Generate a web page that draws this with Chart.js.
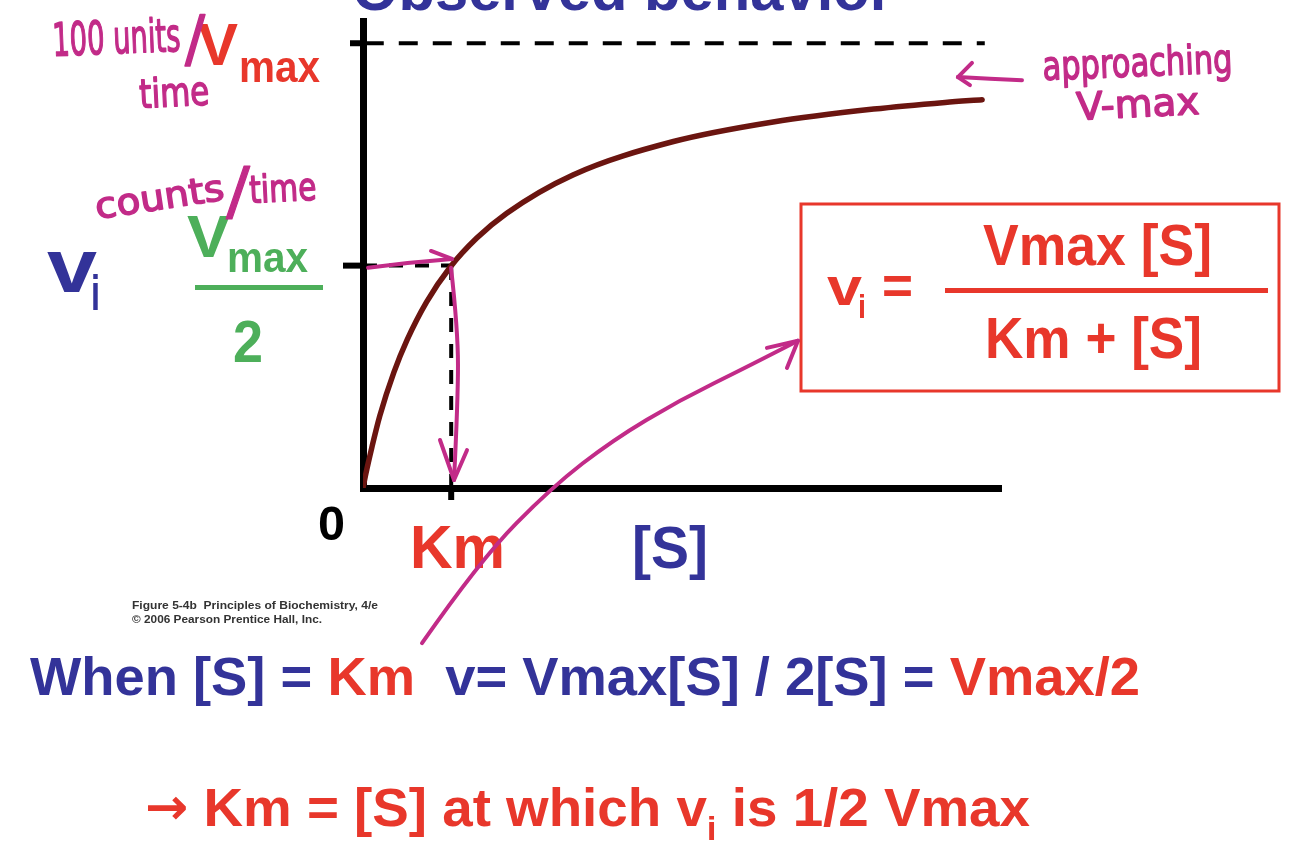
<!DOCTYPE html>
<html><head><meta charset="utf-8">
<script src="https://cdn.jsdelivr.net/npm/chart.js@4.4.1/dist/chart.umd.min.js"></script>
<style>html,body{margin:0;padding:0;background:#fff;overflow:hidden}canvas{display:block}</style>
</head><body>
<canvas id="c" width="1314" height="848"></canvas>
<script>
// ---- data ----
const substrate = [0, 0.03, 0.1, 0.19, 0.35, 0.5, 0.72, 0.99, 1.29, 1.63, 2.38, 3.52, 4.65, 5.79, 6.6, 7.02];
const velocity  = [0, 3.0, 9.1, 16.2, 26, 33.3, 41.8, 49.7, 56.2, 61.8, 70.4, 77.9, 82.3, 85.2, 86.7, 87.3];
const vmaxValue = 100;
const halfVmax = 50;
const kmValue = 1;
const vmaxLineX = [0.02, 7.05];
const yTickValues = [halfVmax, vmaxValue];
const xTickValues = [kmValue];
// hand-drawn arrows (data coordinates)
const arrowToCurve = [[0.057, 49.5], [0.533, 50.8], [1.009, 51.5]];
const arrowToCurveHead = [[0.771, 53.3]];
const arrowDown = [[0.998, 49.5], [1.077, 35.5], [1.077, 19.8], [1.032, 1.8]];
const arrowDownHead = [[0.873, 10.8], [1.179, 8.5]];
const arrowToBox = [[0.669, -34.9], [1.327, -16.2], [2.143, 0.2], [2.834, 10.8], [3.594, 19.8], [4.354, 27.2], [4.932, 33.1]];
const arrowToBoxHead = [[4.58, 31.5], [4.807, 27.0]];
const arrowApproach = [[7.472, 91.7], [7.109, 92.0], [6.746, 92.4]];
const arrowApproachHead = [[6.905, 95.6], [6.882, 90.6]];

const BLUE = '#333399', RED = '#e8372b', GREEN = '#4daf5a', MAG = '#c22b88', CURVE = '#6b1510';
const FAM = "'Liberation Sans', Arial, Helvetica, sans-serif";
const HAND = "'DejaVu Sans', sans-serif";

function fitText(ctx, str, x, y, w, size, color, o = {}) {
  ctx.save();
  ctx.font = (o.weight || 'bold') + ' ' + size + 'px ' + (o.family || FAM);
  ctx.fillStyle = color;
  ctx.textBaseline = 'alphabetic';
  const m = ctx.measureText(str).width;
  const sx = w ? w / m : 1;
  ctx.translate(x, y);
  if (o.rot) ctx.rotate(o.rot);
  ctx.scale(sx, 1);
  ctx.fillText(str, 0, 0);
  if (o.stroke) { ctx.strokeStyle = color; ctx.lineWidth = o.stroke; ctx.lineJoin = 'round'; ctx.strokeText(str, 0, 0); }
  ctx.restore();
}
// segs: [text, color, size?, dy?, family?]
function segText(ctx, segs, x, y, w, size) {
  ctx.save();
  const fontOf = s => 'bold ' + (s[2] || size) + 'px ' + (s[4] || FAM);
  let total = 0;
  segs.forEach(s => { ctx.font = fontOf(s); total += ctx.measureText(s[0]).width; });
  const sx = w / total;
  ctx.translate(x, y);
  ctx.scale(sx, 1);
  let cx = 0;
  segs.forEach(s => {
    ctx.font = fontOf(s);
    ctx.fillStyle = s[1];
    ctx.fillText(s[0], cx, s[3] || 0);
    cx += ctx.measureText(s[0]).width;
  });
  ctx.restore();
}
function smoothPath(ctx, pts) {
  ctx.beginPath();
  ctx.moveTo(pts[0][0], pts[0][1]);
  if (pts.length === 2) { ctx.lineTo(pts[1][0], pts[1][1]); return; }
  for (let i = 1; i < pts.length - 1; i++) {
    const mx = (pts[i][0] + pts[i + 1][0]) / 2, my = (pts[i][1] + pts[i + 1][1]) / 2;
    if (i === pts.length - 2) ctx.quadraticCurveTo(pts[i][0], pts[i][1], pts[i + 1][0], pts[i + 1][1]);
    else ctx.quadraticCurveTo(pts[i][0], pts[i][1], mx, my);
  }
}

const overlay = {
  id: 'overlay',
  afterDraw(chart) {
    const ctx = chart.ctx, xs = chart.scales.x, ys = chart.scales.y;
    const P = p => [xs.getPixelForValue(p[0]), ys.getPixelForValue(p[1])];
    // tick marks
    ctx.save();
    ctx.strokeStyle = '#000'; ctx.lineWidth = 6;
    yTickValues.forEach((v, i) => {
      const y = ys.getPixelForValue(v);
      ctx.beginPath(); ctx.moveTo(xs.left - (i === 0 ? 20 : 13), y); ctx.lineTo(xs.left, y); ctx.stroke();
    });
    xTickValues.forEach(v => {
      const x = xs.getPixelForValue(v);
      ctx.beginPath(); ctx.moveTo(x, ys.bottom); ctx.lineTo(x, ys.bottom + 12); ctx.stroke();
    });
    ctx.restore();

    // titles & labels
    fitText(ctx, 'Observed behavior', 352, 10, 541, 62, BLUE);
    fitText(ctx, 'V', 198, 65, 40, 60, RED);
    fitText(ctx, 'max', 239, 82, 81, 44, RED);
    fitText(ctx, 'v', 47, 292, 50, 76, BLUE);
    fitText(ctx, 'i', 91, 310, 9, 50, BLUE);
    fitText(ctx, 'V', 187, 257, 43, 60, GREEN);
    fitText(ctx, 'max', 227, 272, 81, 42, GREEN);
    ctx.save(); ctx.fillStyle = GREEN; ctx.fillRect(195, 285, 128, 5); ctx.restore();
    fitText(ctx, '2', 233, 362, 30, 60, GREEN);
    fitText(ctx, '0', 318, 540, 27, 48, '#000');
    fitText(ctx, 'Km', 410, 568, 95, 62, RED);
    fitText(ctx, '[S]', 632, 568, 76, 60, BLUE);
    fitText(ctx, 'Figure 5-4b  Principles of Biochemistry, 4/e', 132, 609, 246, 11.5, '#333');
    fitText(ctx, '\u00A9 2006 Pearson Prentice Hall, Inc.', 132, 623, 190, 11.5, '#333');

    // equation box
    ctx.save(); ctx.strokeStyle = RED; ctx.lineWidth = 3; ctx.strokeRect(801, 204, 478, 187); ctx.restore();
    fitText(ctx, 'v', 827, 305, 35, 54, RED);
    fitText(ctx, 'i', 858, 318, 8, 34, RED);
    fitText(ctx, '=', 882, 304, 31, 54, RED);
    ctx.save(); ctx.fillStyle = RED; ctx.fillRect(945, 288, 323, 5); ctx.restore();
    fitText(ctx, 'Vmax [S]', 983, 265, 229, 58, RED);
    fitText(ctx, 'Km + [S]', 985, 358, 217, 58, RED);

    // bottom statements
    segText(ctx, [['When [S] = ', BLUE], ['Km', RED], ['  v= Vmax[S] / 2[S] = ', BLUE], ['Vmax/2', RED]], 30, 695, 1110, 53);
    segText(ctx, [['\u2192', RED, 50, -2, "'DejaVu Sans', sans-serif"], [' Km = [S] at which v', RED], ['i', RED, 34, 14], [' is 1/2 Vmax', RED]], 145, 826, 885, 53);

    // handwriting
    fitText(ctx, '100 units', 53, 56, 128, 46, MAG, {weight: 'normal', family: HAND, rot: -0.04, stroke: 1.5});
    fitText(ctx, '/', 185, 60, 20, 62, MAG, {weight: 'normal', family: HAND, stroke: 1.5});
    fitText(ctx, 'time', 140, 108, 70, 40, MAG, {weight: 'normal', family: HAND, rot: -0.05, stroke: 1.5});
    fitText(ctx, 'counts', 97, 219, 130, 36, MAG, {weight: 'normal', family: HAND, rot: -0.15, stroke: 1.5});
    fitText(ctx, '/', 226, 213, 24, 64, MAG, {weight: 'normal', family: HAND, stroke: 1});
    fitText(ctx, 'time', 250, 203, 67, 38, MAG, {weight: 'normal', family: HAND, rot: -0.05, stroke: 1.5});
    fitText(ctx, 'approaching', 1043, 80, 190, 40, MAG, {weight: 'normal', family: HAND, rot: -0.04, stroke: 1.5});
    fitText(ctx, 'V-max', 1077, 120, 123, 38, MAG, {weight: 'normal', family: HAND, rot: -0.05, stroke: 1.5});

    // hand-drawn arrows
    ctx.save();
    ctx.strokeStyle = MAG; ctx.lineWidth = 4; ctx.lineCap = 'round'; ctx.lineJoin = 'round';
    [[arrowToCurve, arrowToCurveHead], [arrowDown, arrowDownHead], [arrowToBox, arrowToBoxHead], [arrowApproach, arrowApproachHead]].forEach(([path, head]) => {
      const pts = path.map(P);
      smoothPath(ctx, pts); ctx.stroke();
      const tip = pts[pts.length - 1];
      head.map(P).forEach(h => { ctx.beginPath(); ctx.moveTo(h[0], h[1]); ctx.lineTo(tip[0], tip[1]); ctx.stroke(); });
    });
    ctx.restore();
  }
};

new Chart(document.getElementById('c'), {
  type: 'line',
  data: {
    datasets: [
      { data: substrate.map((s, i) => ({x: s, y: velocity[i]})), borderColor: CURVE, borderWidth: 5.5, pointRadius: 0, cubicInterpolationMode: 'monotone', borderCapStyle: 'round', order: 0 },
      { data: vmaxLineX.map(x => ({x, y: vmaxValue})), borderColor: '#000', borderWidth: 4, borderDash: [19, 15], pointRadius: 0, order: 1 },
      { data: [{x: kmValue, y: 0}, {x: kmValue, y: halfVmax}], borderColor: '#000', borderWidth: 4, borderDash: [14, 12], pointRadius: 0, order: 1 },
      { data: [{x: 0, y: halfVmax}, {x: kmValue, y: halfVmax}], borderColor: '#000', borderWidth: 4, borderDash: [14, 12], pointRadius: 0, order: 1 }
    ]
  },
  options: {
    responsive: false, animation: false, devicePixelRatio: 1,
    layout: { padding: { left: 363, right: 316, top: 21, bottom: 360 } },
    plugins: { legend: { display: false }, tooltip: { enabled: false } },
    events: [],
    scales: {
      x: { type: 'linear', min: 0, max: 7.2, ticks: { display: false }, grid: { display: false, lineWidth: 7 },
           border: { display: true, color: '#000', width: 7 }, afterFit: s => { s.height = 0; } },
      y: { type: 'linear', min: 0, max: 105, ticks: { display: false }, grid: { display: false, lineWidth: 7 },
           border: { display: true, color: '#000', width: 7 }, afterFit: s => { s.width = 0; } }
    }
  },
  plugins: [overlay]
});
</script>
</body></html>
